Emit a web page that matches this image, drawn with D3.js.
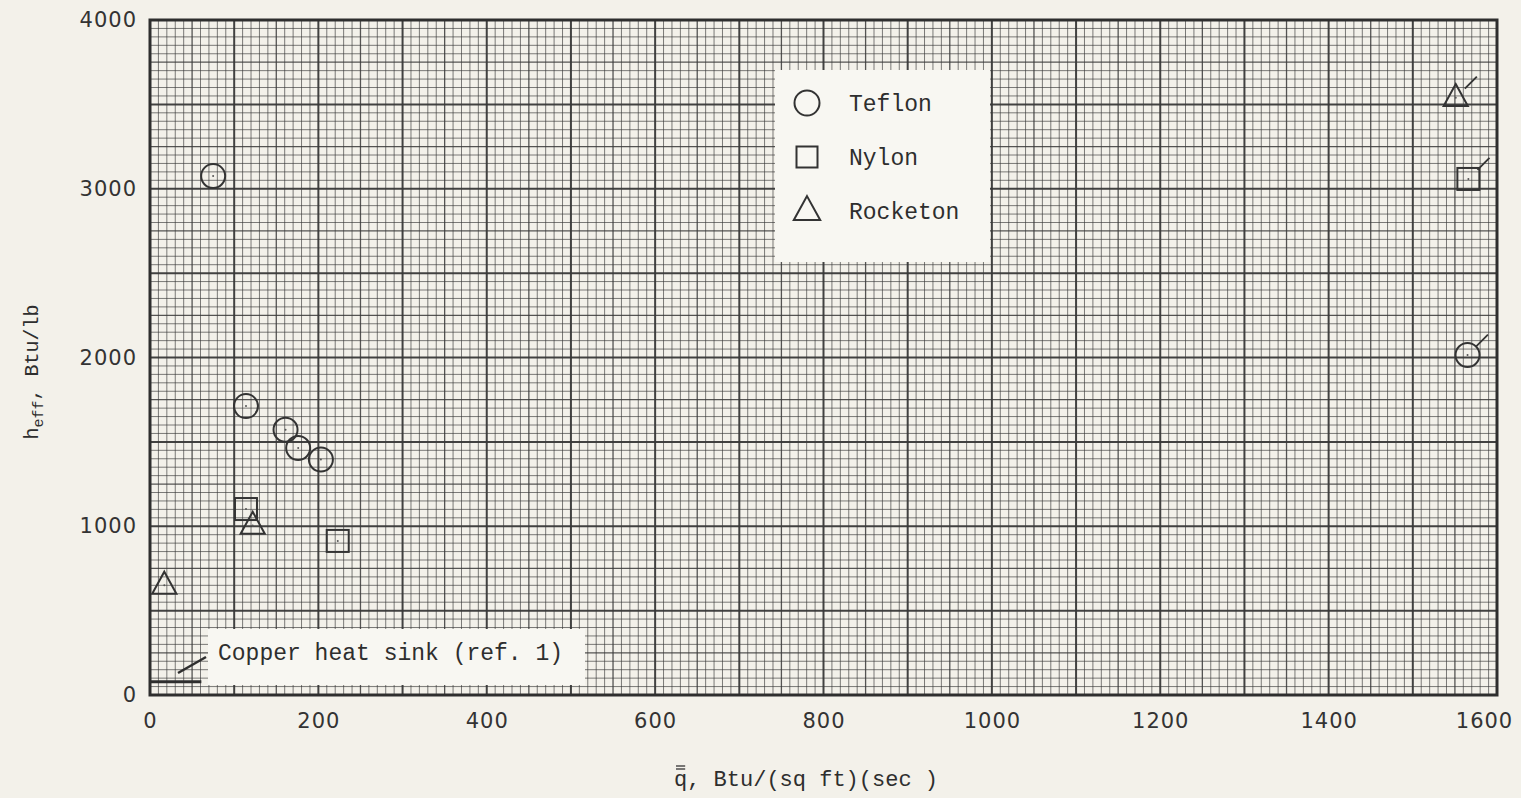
<!DOCTYPE html>
<html>
<head>
<meta charset="utf-8">
<script src="https://cdn.jsdelivr.net/npm/d3@7"></script>
<style>
  body { margin: 0; background: #f3f1ea; }
  svg { display: block; }
  .mono { font-family: "Liberation Mono", "DejaVu Sans Mono", monospace; fill: #2e2e2e; }
</style>
</head>
<body>
<svg id="chart" width="1521" height="798"></svg>
<script>
// data
const teflon = [
  { q: 75, h: 3075 },
  { q: 114, h: 1712 },
  { q: 161, h: 1572 },
  { q: 176, h: 1464 },
  { q: 203, h: 1395 },
  { q: 1565, h: 2015, flag: true },
];
const nylon = [
  { q: 114, h: 1102 },
  { q: 223, h: 913 },
  { q: 1566, h: 3058, flag: true },
];
const rocketon = [
  { q: 17, h: 650 },
  { q: 122, h: 1005 },
  { q: 1551, h: 3540, flag: true },
];
const copperLine = [{ q: 0, h: 78 }, { q: 61, h: 78 }];
const xTicks = [0, 200, 400, 600, 800, 1000, 1200, 1400, 1600];
const yTicks = [0, 1000, 2000, 3000, 4000];
const legendNames = ['Teflon', 'Nylon', 'Rocketon'];

const svg = d3.select('#chart');
const x = d3.scaleLinear().domain([0, 1600]).range([150, 1497]);
const y = d3.scaleLinear().domain([0, 4000]).range([695, 20]);
const ink = '#383838';

svg.append('rect').attr('width', 1521).attr('height', 798).attr('fill', '#f3f1ea');

// graph paper grid
const grid = svg.append('g');
const xs = d3.range(0, 1601, 10);
const ys = d3.range(0, 4001, 50);
const weight = (v, major, mid) => (v % major === 0 ? 2 : v % mid === 0 ? 1.3 : 0.9);
const alpha = (v, major, mid) => (v % major === 0 ? 0.95 : v % mid === 0 ? 0.85 : 0.72);
grid.selectAll('.vx').data(xs).enter().append('line')
  .attr('x1', d => x(d)).attr('x2', d => x(d))
  .attr('y1', y(4000)).attr('y2', y(0))
  .attr('stroke', ink)
  .attr('stroke-width', d => weight(d, 100, 50))
  .attr('stroke-opacity', d => alpha(d, 100, 50));
grid.selectAll('.hy').data(ys).enter().append('line')
  .attr('y1', d => y(d)).attr('y2', d => y(d))
  .attr('x1', x(0)).attr('x2', x(1600))
  .attr('stroke', ink)
  .attr('stroke-width', d => weight(d, 500, 250))
  .attr('stroke-opacity', d => alpha(d, 500, 250));
svg.append('rect')
  .attr('x', x(0)).attr('y', y(4000))
  .attr('width', x(1600) - x(0)).attr('height', y(0) - y(4000))
  .attr('fill', 'none').attr('stroke', '#2e2e2e').attr('stroke-width', 3);

// axes (labels only)
const tickStyle = sel => sel
  .style('font-family', '"DejaVu Sans", sans-serif')
  .style('font-size', '21px')
  .style('letter-spacing', '1px')
  .style('fill', '#333');
const xAxis = svg.append('g').attr('transform', `translate(0,${y(0) + 14})`)
  .call(d3.axisBottom(x).tickValues(xTicks).tickSize(0).tickFormat(d3.format('d')));
xAxis.select('.domain').remove();
xAxis.selectAll('text').attr('dy', '0.75em').call(tickStyle)
  .attr('x', d => (d === 1600 ? -13 : 0));
const yAxis = svg.append('g').attr('transform', `translate(${x(0) - 10},0)`)
  .call(d3.axisLeft(y).tickValues(yTicks).tickSize(0).tickFormat(d3.format('d')));
yAxis.select('.domain').remove();
yAxis.selectAll('text').call(tickStyle);

// legend box
svg.append('rect').attr('x', 775).attr('y', 70).attr('width', 215).attr('height', 192)
  .attr('fill', '#f8f7f2');
// copper heat sink label box
svg.append('rect').attr('x', 208).attr('y', 629).attr('width', 377).attr('height', 56)
  .attr('fill', '#f8f7f2');

function applyStroke(sel) {
  return sel.attr('fill', 'none').attr('stroke', '#333').attr('stroke-width', 2);
}
const tri = s => `M0,${-s * 0.62}L${s * 0.55},${s * 0.38}L${-s * 0.55},${s * 0.38}Z`;

// marks
applyStroke(svg.selectAll('.teflon').data(teflon).enter().append('circle')
  .attr('cx', d => x(d.q)).attr('cy', d => y(d.h)).attr('r', 12));
applyStroke(svg.selectAll('.nylon').data(nylon).enter().append('rect')
  .attr('x', d => x(d.q) - 11).attr('y', d => y(d.h) - 11).attr('width', 22).attr('height', 22));
applyStroke(svg.selectAll('.rocketon').data(rocketon).enter().append('path')
  .attr('transform', d => `translate(${x(d.q)},${y(d.h)})`).attr('d', tri(22)));

// pencil dots at centres
svg.selectAll('.dot').data([...teflon, ...nylon, ...rocketon]).enter().append('circle')
  .attr('cx', d => x(d.q)).attr('cy', d => y(d.h)).attr('r', 1).attr('fill', '#555');

// flags on the high-q points
const flagged = [
  ...teflon.filter(d => d.flag).map(d => ({ ...d, r: 12 })),
  ...nylon.filter(d => d.flag).map(d => ({ ...d, r: 13 })),
  ...rocketon.filter(d => d.flag).map(d => ({ ...d, r: 13 })),
];
svg.selectAll('.flag').data(flagged).enter().append('line')
  .attr('x1', d => x(d.q) + d.r * 0.7).attr('y1', d => y(d.h) - d.r * 0.7)
  .attr('x2', d => x(d.q) + d.r * 0.7 + 12).attr('y2', d => y(d.h) - d.r * 0.7 - 12)
  .attr('stroke', '#333').attr('stroke-width', 1.8);

// copper heat sink reference line + leader
svg.append('path').datum(copperLine)
  .attr('d', d3.line().x(d => x(d.q)).y(d => y(d.h)))
  .attr('stroke', '#2e2e2e').attr('stroke-width', 3).attr('fill', 'none');
svg.append('line').attr('x1', 178).attr('y1', 673).attr('x2', 206).attr('y2', 657)
  .attr('stroke', '#2e2e2e').attr('stroke-width', 2.5);
svg.append('text').attr('class', 'mono').attr('x', 218).attr('y', 660)
  .style('font-size', '23px').text('Copper heat sink (ref. 1)');

// legend
const lg = svg.append('g').attr('transform', 'translate(807,103)');
legendNames.forEach((name, i) => {
  const g = lg.append('g').attr('transform', `translate(0,${i * 54})`);
  if (i === 0) applyStroke(g.append('circle').attr('r', 12.5));
  if (i === 1) applyStroke(g.append('rect').attr('x', -10.5).attr('y', -10.5).attr('width', 21).attr('height', 21));
  if (i === 2) applyStroke(g.append('path').attr('d', tri(24)));
  g.append('text').attr('class', 'mono').attr('x', 42).attr('y', 8)
    .style('font-size', '23px').text(name);
});

// axis titles
const yl = svg.append('text').attr('class', 'mono')
  .attr('transform', 'translate(38,372) rotate(-90)')
  .attr('text-anchor', 'middle').style('font-size', '20px');
yl.append('tspan').text('h');
yl.append('tspan').attr('dy', 5).style('font-size', '15px').text('eff');
yl.append('tspan').attr('dy', -5).text(', Btu/lb');

const xl = svg.append('text').attr('class', 'mono')
  .attr('x', 806).attr('y', 786).attr('text-anchor', 'middle')
  .style('font-size', '22px').text('q, Btu/(sq ft)(sec )');
const n = xl.node();
const q0 = n.getStartPositionOfChar(0).x;
const q1 = n.getEndPositionOfChar(0).x;
[766, 769].forEach(yy => svg.append('line')
  .attr('x1', q0 + 2).attr('x2', q1 - 2).attr('y1', yy).attr('y2', yy)
  .attr('stroke', '#333').attr('stroke-width', 1.3));
</script>
</body>
</html>
